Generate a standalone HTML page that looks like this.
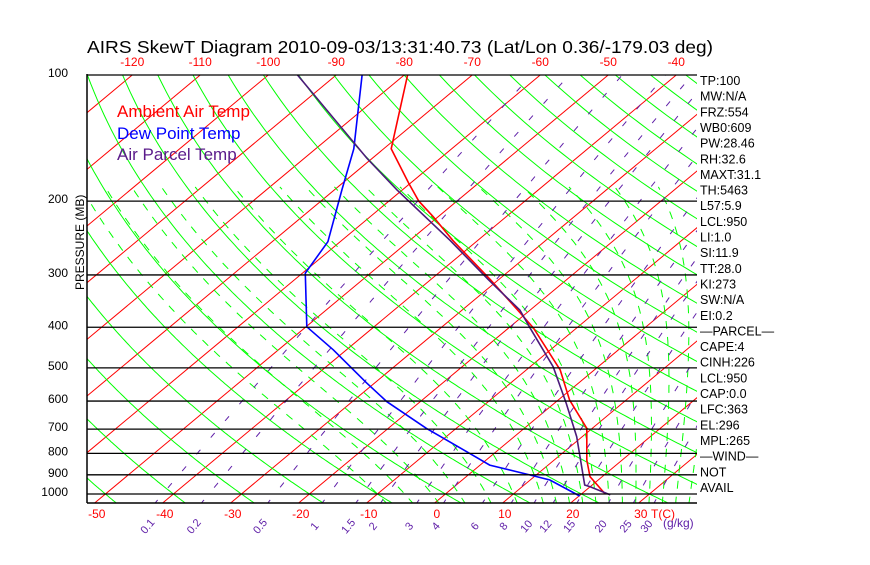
<!DOCTYPE html>
<html><head><meta charset="utf-8"><style>
body{margin:0;background:#fff;width:870px;height:560px;overflow:hidden}
svg text{font-family:"Liberation Sans",sans-serif}
</style></head><body>
<svg id="chart" width="870" height="560" xmlns="http://www.w3.org/2000/svg">
<defs><clipPath id="plotclip"><rect x="87" y="75" width="610" height="428"/></clipPath></defs>
<text x="87" y="53" font-size="17.5" textLength="626" lengthAdjust="spacingAndGlyphs">AIRS SkewT Diagram 2010-09-03/13:31:40.73 (Lat/Lon 0.36/-179.03 deg)</text>
<g id="grid" clip-path="url(#plotclip)"></g>
<g id="series" clip-path="url(#plotclip)"></g>
<g id="axes"></g>
<text x="117" y="117" font-size="17" fill="#ff0000">Ambient Air Temp</text>
<text x="117" y="139" font-size="17" fill="#0000ff">Dew Point Temp</text>
<text x="117" y="160" font-size="17" fill="#5a1a8a">Air Parcel Temp</text>
<text transform="translate(84,290) rotate(-90)" font-size="12">PRESSURE (MB)</text>
<g id="stats"></g>
</svg>
<script>
// ---- data ----
const pressureLevels=[100,200,300,400,500,600,700,800,900,1000];
const topTicks=[-120,-110,-100,-90,-80,-70,-60,-50,-40];
const bottomTicks=[-50,-40,-30,-20,-10,0,10,20,30];
const mixingRatios=[0.1,0.2,0.5,1,1.5,2,3,4,6,8,10,12,15,20,25,30];
const mixingLabels=["0.1","0.2","0.5","1","1.5","2","3","4","6","8","10","12","15","20","25","30"];
const dryThetasC=[-80,-70,-60,-50,-40,-30,-20,-10,0,10,20,30,40,50,60,70,80,90,100,110,120,130,140,150,160,170,180,190,200];
const moistThetaW=[-10,-6,-2,2,6,10,14,16,18,20,22,24,26,28,30,32,34,36];
const tempP=[100,150,181,200,218,248,308,370,402,506,597,697,830,909,1000];
const tempT=[-79.5,-68.9,-60.3,-55.6,-50.7,-43.7,-31.2,-20.9,-16.3,-5,1.7,9.2,14.8,18.2,23.5];
const dewP=[100,150,188,250,297,399,453,544,602,697,800,853,901,926,1011];
const dewT=[-86.2,-74.4,-68.9,-61.8,-59.6,-49.9,-41.9,-31.1,-24.9,-14.4,-3.6,1.4,9.1,12.9,20.1];
const parcelP=[100,158,188,248,308,364,402,497,608,730,952,961,1005];
const parcelT=[-95.7,-70.8,-60.8,-44.1,-31.5,-21.5,-16.8,-6.6,1.8,9.2,18.9,20,24.4];
const statLabels=["TP:100","MW:N/A","FRZ:554","WB0:609","PW:28.46","RH:32.6","MAXT:31.1","TH:5463","L57:5.9","LCL:950","LI:1.0","SI:11.9","TT:28.0","KI:273","SW:N/A","EI:0.2","\u2014PARCEL\u2014","CAPE:4","CINH:226","LCL:950","CAP:0.0","LFC:363","EL:296","MPL:265","\u2014WIND\u2014","NOT","AVAIL"];
// ---- axes ----
const NS="http://www.w3.org/2000/svg";
const yP=p=>75+419*Math.log10(p/100);
const xT=(T,p)=>163+(T+40)*6.8+(502.7-yP(p))*1.2;
function mk(tag,attrs,parent){const e=document.createElementNS(NS,tag);for(const k in attrs)e.setAttribute(k,attrs[k]);parent.appendChild(e);return e;}
const grid=document.getElementById('grid'),series=document.getElementById('series'),axes=document.getElementById('axes'),stats=document.getElementById('stats');
function pathOf(pts){return pts.map((q,i)=>(i?'L':'M')+q[0].toFixed(1)+' '+q[1].toFixed(1)).join('');}
const pList=[];for(let p=1060;p>=95;p-=5)pList.push(p);
// isotherms
for(let T=-160;T<=40;T+=10){
  const l=mk('line',{x1:xT(T,1060),y1:yP(1060),x2:xT(T,95),y2:yP(95),stroke:'#ff0000','stroke-width':1},grid);
  
  
}
// dry adiabats
dryThetasC.forEach(th=>{
  const pts=pList.map(p=>[xT((th+273.15)*Math.pow(p/1000,0.286)-273.15,p),yP(p)]);
  const e=mk('path',{d:pathOf(pts),stroke:'#00ff00',fill:'none','stroke-width':1},grid);
  
  
});
// moist adiabats
function es(T){return 6.112*Math.exp(17.67*T/(T+243.5));}
function gammaM(T,p){const Tk=T+273.15,e=es(T),r=0.622*e/(p-e),L=2.5e6,Rd=287,cp=1004;
  return (Rd*Tk+L*r)/(cp+L*L*r*0.622/(Rd*Tk*Tk))/p;}
moistThetaW.forEach(tw=>{
  let T,p,pts=[];
  let Td=tw;for(let pp=1000;pp<1060;pp+=1){Td+=gammaM(Td,pp)*1;}
  T=Td;p=1060;
  while(p>180){pts.push([xT(T,p),yP(p)]);for(let k=0;k<5;k++){T-=gammaM(T,p)*1;p-=1;}}
  const e=mk('path',{d:pathOf(pts),stroke:'#00ff00',fill:'none','stroke-width':1,'stroke-dasharray':'8,8'},grid);
  
  
});
// mixing ratio lines
function Tw(w,p){const e=w*p/(622+w),l=Math.log(e/6.112);return 243.5*l/(17.67-l);}
mixingRatios.forEach((w,i)=>{
  const pts=pList.map(p=>[xT(Tw(w,p),p),yP(p)]);
  const e=mk('path',{d:pathOf(pts),stroke:'#6020a8',fill:'none','stroke-width':1,'stroke-dasharray':'6,16'},grid);
  
  
  const x=xT(Tw(w,1050),1050)-8;
  const t=mk('text',{x:x,y:530,'font-size':11,fill:'#6020a8','text-anchor':'middle',transform:`rotate(-50 ${x} 526)`},axes);
  t.textContent=mixingLabels[i];
  
  
});
// pressure lines + labels
pressureLevels.forEach(p=>{
  const l=mk('line',{x1:87,y1:yP(p),x2:697,y2:yP(p),stroke:'#000','stroke-width':1.3},axes);
  
  
  const t=mk('text',{x:68,y:yP(p)+2,'font-size':12,'text-anchor':'end'},axes);
  t.textContent=p;
  
  
});
const b1=mk('line',{x1:87,y1:503,x2:697,y2:503,stroke:'#000','stroke-width':1.5},axes);


const b2=mk('line',{x1:87,y1:74,x2:87,y2:503,stroke:'#000','stroke-width':1.5},axes);


topTicks.forEach(T=>{
  const t=mk('text',{x:xT(T,100),y:66,'font-size':12,fill:'#ff0000','text-anchor':'middle'},axes);
  t.textContent=T;
  
  
});
bottomTicks.forEach(T=>{
  const t=mk('text',{x:xT(T,1050)+2,y:518,'font-size':12,fill:'#ff0000','text-anchor':'middle'},axes);
  t.textContent=T;
  
  
});
const tc=mk('text',{x:651,y:518,'font-size':12,fill:'#ff0000'},axes);tc.textContent='T(C)';


const gk=mk('text',{x:663,y:527,'font-size':12,fill:'#6020a8'},axes);gk.textContent='(g/kg)';


// series
function drawSeries(P,T,color,name){
  const pts=P.map((p,i)=>[xT(T[i],p),yP(p)]);
  const e=mk('path',{d:pathOf(pts),stroke:color,fill:'none','stroke-width':1.6},series);
  
  
}
drawSeries(tempP,tempT,'#ff0000','ambient-temp-line');
drawSeries(dewP,dewT,'#0000ff','dew-point-line');
drawSeries(parcelP,parcelT,'#4b1a7a','parcel-temp-line');
// stats
statLabels.forEach((s,i)=>{
  const t=mk('text',{x:700,y:85+i*15.65,'font-size':12.5},stats);
  t.textContent=s;
  
  
});
</script>
</body></html>
